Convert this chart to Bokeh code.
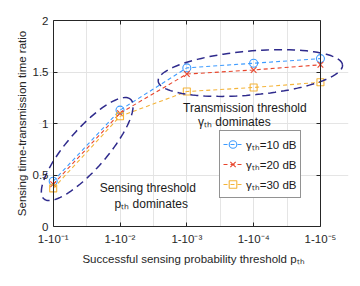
import numpy as np
from bokeh.plotting import figure
from bokeh.models import (Range1d, FixedTicker, LinearAxis, Legend, LegendItem,
                          Label, Grid)
from bokeh.embed import file_html
from bokeh.resources import INLINE

# ---- data ----
x_pos = [1, 2, 3, 4, 5]
x_tick_labels = ["1-10⁻¹", "1-10⁻²", "1-10⁻³", "1-10⁻⁴", "1-10⁻⁵"]
y_ticks = [0, 0.5, 1, 1.5, 2]
y_tick_labels = ["0", "0.5", "1", "1.5", "2"]
ratio_10dB = [0.44, 1.13, 1.54, 1.585, 1.63]
ratio_20dB = [0.41, 1.10, 1.48, 1.52, 1.57]
ratio_30dB = [0.37, 1.07, 1.31, 1.35, 1.40]
series_labels = ["γₜₕ=10 dB", "γₜₕ=20 dB", "γₜₕ=30 dB"]

FONT = "Liberation Sans"
AX = "#262626"

X0, X1 = 0.78, 5.42          # frame extends a little past the axes box
FW, FH = 310, 206
p = figure(frame_width=FW, frame_height=FH, output_backend="svg",
           toolbar_location=None, x_range=Range1d(X0, X1), y_range=Range1d(0, 2),
           min_border_left=38, min_border_right=10, min_border_top=20,
           min_border_bottom=58, background_fill_color="white",
           border_fill_color="white", x_axis_location=None, y_axis_location=None)
p.outline_line_color = None

def style_axis(ax):
    ax.axis_line_color = AX
    ax.major_tick_line_color = AX
    ax.major_tick_in = 4
    ax.major_tick_out = 0
    ax.minor_tick_line_color = None
    ax.major_label_text_font = FONT
    ax.major_label_text_font_size = "11.5px"
    ax.major_label_text_color = AX
    ax.axis_label_text_font = FONT
    ax.axis_label_text_font_size = "11.5px"
    ax.axis_label_text_font_style = "normal"
    ax.axis_label_text_color = AX

def hide_labels(ax):
    ax.major_label_text_color = None
    ax.major_label_text_font_size = "0px"
    ax.major_label_standoff = 0

# bottom axis (box from x=1 to x=5)
xax = LinearAxis(ticker=FixedTicker(ticks=x_pos), bounds=(1, 5),
                 major_label_overrides={x: s for x, s in zip(x_pos, x_tick_labels)},
                 axis_label="Successful sensing probability threshold pₜₕ",
                 major_label_standoff=6, axis_label_standoff=5)
style_axis(xax)
p.add_layout(xax, "below")

# left: labels-only axis in the side panel
ylab = LinearAxis(ticker=FixedTicker(ticks=y_ticks),
                  major_label_overrides={t: s for t, s in zip(y_ticks, y_tick_labels)},
                  axis_label="Sensing time-transmission time ratio",
                  major_label_standoff=-10, axis_label_standoff=2)
style_axis(ylab)
ylab.axis_line_color = None
ylab.major_tick_line_color = None
ylab.major_tick_in = 0
p.add_layout(ylab, "left")

# left: line + ticks at x=1
yline = LinearAxis(ticker=FixedTicker(ticks=y_ticks), fixed_location=1)
style_axis(yline)
hide_labels(yline)
p.add_layout(yline, "left")

top = LinearAxis(ticker=FixedTicker(ticks=x_pos), bounds=(1, 5))
style_axis(top)
hide_labels(top)
p.add_layout(top, "above")

right = LinearAxis(ticker=FixedTicker(ticks=y_ticks), fixed_location=5)
style_axis(right)
hide_labels(right)
p.add_layout(right, "right")

gx = Grid(dimension=0, ticker=FixedTicker(ticks=x_pos), grid_line_color="#e3e3e3")
gy = Grid(dimension=1, ticker=FixedTicker(ticks=y_ticks), grid_line_color="#e3e3e3",
          cross_bounds=(1, 5))
p.add_layout(gx)
p.add_layout(gy)

colors = ["#3d9bff", "#e8452c", "#f4b43a"]
series = [ratio_10dB, ratio_20dB, ratio_30dB]
markers = ["circle", "x", "square"]
sizes = [8, 8, 7]
items = []
for ys, c, m, s, lab in zip(series, colors, markers, sizes, series_labels):
    l = p.line(x_pos, ys, line_color=c, line_width=1.1, line_dash="4 3")
    sc = p.scatter(x_pos, ys, marker=m, size=s, line_color=c, fill_color=None,
                   line_width=1.1)
    items.append(LegendItem(label=lab, renderers=[l, sc]))

legend = Legend(items=items, location=(181, 28), padding=3, margin=0, spacing=0,
                glyph_width=19, glyph_height=20, label_height=20, label_standoff=4,
                label_text_font=FONT, label_text_font_size="11.5px",
                label_text_color="#1a1a1a", border_line_color=AX,
                background_fill_color="white", background_fill_alpha=1)
p.add_layout(legend, "center")

# ---- dashed ellipses (annotation outlines) ----
sx, sy = FW / (X1 - X0), FH / 2.0   # px per data unit
def ellipse_outline(cx, cy, a, b, deg):
    t = np.linspace(0, 2 * np.pi, 120)
    th = np.radians(deg)
    dx = a * np.cos(t) * np.cos(th) - b * np.sin(t) * np.sin(th)
    dy = a * np.cos(t) * np.sin(th) + b * np.sin(t) * np.cos(th)
    return list(cx + dx / sx), list(cy + dy / sy)

for cx, cy, a, b, deg in ((1.509, 0.752, 66, 20, 49), (3.951, 1.490, 92.5, 22, 5)):
    xs, ys = ellipse_outline(cx, cy, a, b, deg)
    p.line(xs, ys, line_color="#2e2a8c", line_width=1.5, line_dash="8 5")

# ---- text annotations ----
texts = [("Sensing threshold", 2.416, 0.369), ("pₜₕ dominates", 2.468, 0.223),
         ("Transmission threshold", 3.869, 1.146), ("γₜₕ dominates", 3.712, 1.01)]
for t, x, y in texts:
    p.add_layout(Label(x=x, y=y, text=t, text_align="center", text_baseline="middle",
                       text_font=FONT, text_font_size="12px", text_color="#1a1a1a"))

open("out.html", "w").write(file_html(p, INLINE))
